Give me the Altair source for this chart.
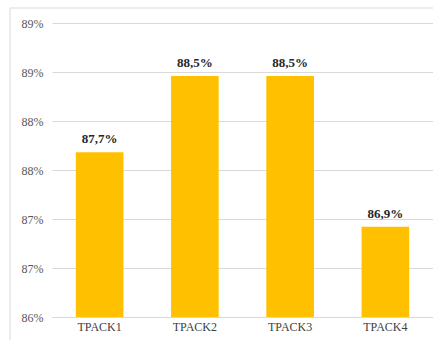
import altair as alt
import pandas as pd

categories = ["TPACK1", "TPACK2", "TPACK3", "TPACK4"]
values = [87.68, 88.46, 88.46, 86.92]
value_labels = ["87,7%", "88,5%", "88,5%", "86,9%"]
y_ticks = [86.0, 86.5, 87.0, 87.5, 88.0, 88.5, 89.0]
y_tick_labels = ["86%", "87%", "87%", "88%", "88%", "89%", "89%"]

df = pd.DataFrame({"cat": categories, "val": values, "lab": value_labels})

label_expr = " : ".join(
    [f"datum.value == {v} ? '{l}'" for v, l in zip(y_ticks, y_tick_labels)] + ["''"]
)

FONT = "'Times New Roman', 'Liberation Serif', 'DejaVu Serif', serif"

x_enc = alt.X("cat:N", sort=categories, title=None,
              scale=alt.Scale(paddingInner=0.5, paddingOuter=0.25),
              axis=alt.Axis(labelAngle=0, labelFont=FONT, labelFontSize=12,
                            labelColor="#404040", ticks=False, domain=True,
                            domainColor="#d9d9d9", labelPadding=4))
y_enc = alt.Y("val:Q", title=None,
              scale=alt.Scale(domain=[86, 89], clamp=True, nice=False, zero=False),
              axis=alt.Axis(values=y_ticks, labelExpr=label_expr, labelFont=FONT,
                            labelFontSize=12, labelColor="#595959", ticks=False,
                            domain=False, gridColor="#d9d9d9", gridWidth=1,
                            labelPadding=9))

bars = alt.Chart(df).mark_bar(color="#FFC000").encode(x=x_enc, y=y_enc)
texts = alt.Chart(df).mark_text(font=FONT, fontSize=13, fontWeight="bold",
                                color="#262626", baseline="bottom", dy=-6).encode(
    x=alt.X("cat:N", sort=categories), y="val:Q", text="lab:N")

frame = alt.Chart(pd.DataFrame({"a": [0]})).mark_rect(
    fill=None, stroke="#d9d9d9", strokeWidth=1).encode(
    x=alt.value(-42), x2=alt.value(400), y=alt.value(-15), y2=alt.value(330))

chart = alt.layer(frame, bars, texts).properties(
    width=381, height=294,
    autosize=alt.AutoSizeParams(type="none"),
    padding={"left": 52, "top": 23, "right": 0, "bottom": 23},
    background="white",
).configure_view(stroke=None)

chart.save("out.html", embed_options={"renderer": "svg", "actions": False})
